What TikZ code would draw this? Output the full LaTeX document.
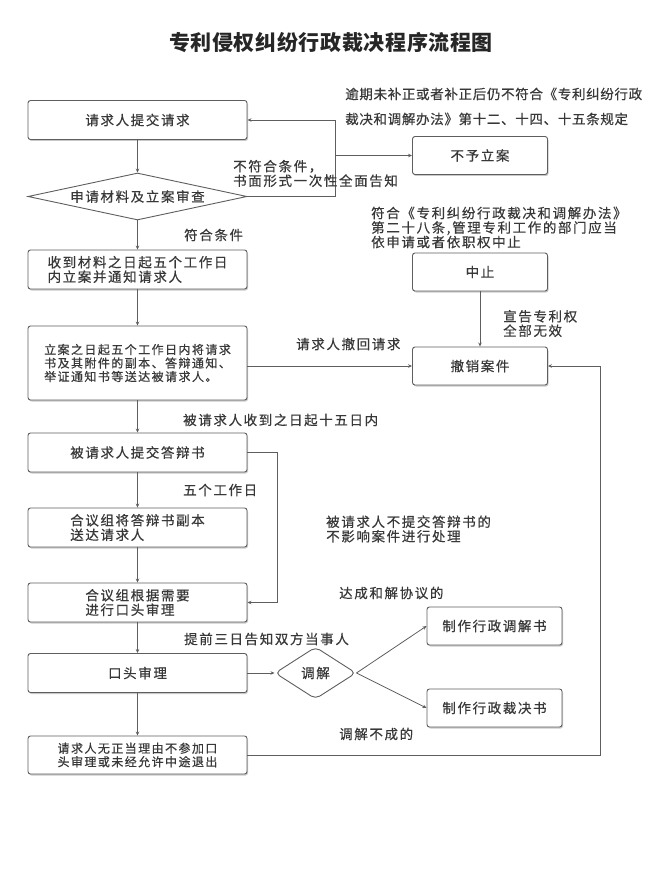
\documentclass[tikz,border=0pt]{standalone}
\usepackage{fontspec}
\usepackage{xcolor}
\usepackage{tikz}
\usetikzlibrary{positioning, shapes.geometric, arrows.meta, calc, shadows}
\newfontfamily\cjk{Noto Sans CJK SC}[LetterSpace=12, FakeBold=0.5]
\newfontfamily\cjktight{Noto Sans CJK SC}[LetterSpace=5, FakeBold=0.5]
\newfontfamily\cjkhead{Noto Sans CJK SC}[LetterSpace=3]
\definecolor{linegray}{HTML}{5E5E5E}
\definecolor{textgray}{HTML}{383838}

\begin{document}
\begin{tikzpicture}[x=1pt, y=-1pt,
        every node/.style={text=textgray, font=\cjk\fontsize{13.5}{14.5}\selectfont},
        box/.style={draw=linegray, line width=0.9pt, rounded corners=2.5pt, fill=white,
          drop shadow={shadow xshift=1pt, shadow yshift=-1.5pt, opacity=0.3, fill=black!70},
          minimum width=219pt, minimum height=39pt, align=left},
        sidebox/.style={box, minimum width=135pt, minimum height=38pt},
        smalltext/.style={font=\cjk\fontsize{12}{13.5}\selectfont},
        check/.style={diamond, draw=linegray, line width=0.9pt, fill=white, inner sep=0pt},
        note/.style={anchor=west, align=left, inner sep=0pt},
        arr/.style={draw=linegray, line width=0.8pt, -{Stealth[length=4pt, width=3.5pt]}}]
        \useasboundingbox (0,0) rectangle (662,882);

        \node[font=\cjkhead\bfseries\fontsize{21}{24}\selectfont, text=black!85] (title) at (331,43) {专利侵权纠纷行政裁决程序流程图};

        % main column
        \node[box] (req) at (137.5,120) {请求人提交请求};
        \node[check, aspect=4.66, minimum width=219pt, minimum height=47pt] (review) at (137.5,196.5) {申请材料及立案审查};
        \node[box] (accept) at (137.5,269.5) {收到材料之日起五个工作日\\内立案并通知请求人};
        \node[box, smalltext, minimum height=74pt] (notify) at (137.5,363) {立案之日起五个工作日内将请求\\书及其附件的副本、答辩通知、\\举证通知书等送达被请求人。};
        \node[box] (reply) at (137.5,452.5) {被请求人提交答辩书};
        \node[box] (copy) at (137.5,527.5) {合议组将答辩书副本\\送达请求人};
        \node[box] (prep) at (137.5,602.5) {合议组根据需要\\进行口头审理};
        \node[box] (hearing) at (137.5,673) {口头审理};
        \node[box, smalltext, minimum height=38pt] (quit) at (137.5,755) {请求人无正当理由不参加口\\头审理或未经允许中途退出};

        % side column
        \node[sidebox] (reject) at (480,155.5) {不予立案};
        \node[sidebox] (suspend) at (480,272) {中止};
        \node[sidebox] (revoke) at (480,366) {撤销案件};
        \node[check, rounded corners=5pt, minimum width=81pt, minimum height=52pt] (mediate) at (315.5,673) {调解};
        \node[sidebox] (medbook) at (494.5,626) {制作行政调解书};
        \node[sidebox] (rulebook) at (494.5,708) {制作行政裁决书};

        \coordinate (back) at (335,120);
        \coordinate (skip) at (277,452.5);
        \coordinate (loop) at (600,755);

        \draw[arr] (req.south) -- (review.north);
        \draw[arr] (review.east) -| (back) -- (req.east);
        \draw[arr] (back |- reject.west) -- (reject.west);
        \draw[arr] (review.south) -- (accept.north);
        \draw[arr] (accept.south) -- (notify.north);
        \draw[arr] (notify.east |- revoke.west) -- (revoke.west);
        \draw[arr] (suspend.south) -- (revoke.north);
        \draw[arr] (notify.south) -- (reply.north);
        \draw[arr] (reply.south) -- (copy.north);
        \draw[arr] (copy.south) -- (prep.north);
        \draw[arr] (reply.east) -- (skip) |- (prep.east);
        \draw[arr] (prep.south) -- (hearing.north);
        \draw[arr] (hearing.east) -- (mediate.west);
        \draw[arr] (mediate.east) -- (medbook.west);
        \draw[arr] (mediate.east) -- (rulebook.west);
        \draw[arr] (hearing.south) -- (quit.north);
        \draw[arr] (quit.east) -- (loop) |- (revoke.east);

        % labels
        \node[note, font=\cjktight\fontsize{13.5}{14.5}\selectfont] (overdue) at (345,106.5) {逾期未补正或者补正后仍不符合《专利纠纷行政\\[10.5pt]裁决和调解办法》第十二、十四、十五条规定};
        \node[note] (unfit) at (233,173.5) {不符合条件，\\书面形式一次性全面告知};
        \node[note] (fit) at (184,235) {符合条件};
        \node[note] (rule) at (371,227.5) {符合《专利纠纷行政裁决和调解办法》\\第二十八条,管理专利工作的部门应当\\依申请或者依职权中止};
        \node[note] (invalid) at (503,323.5) {宣告专利权\\全部无效};
        \node[note] (withdraw) at (296,344) {请求人撤回请求};
        \node[note] (days15) at (183,420) {被请求人收到之日起十五日内};
        \node[note] (days5) at (183,490) {五个工作日};
        \node[note] (noreply) at (326,529) {被请求人不提交答辩书的\\不影响案件进行处理};
        \node[note] (settle) at (339,593) {达成和解协议的};
        \node[note] (notice) at (184,639) {提前三日告知双方当事人};
        \node[note] (fail) at (339,734) {调解不成的};
      \end{tikzpicture}
\end{document}
